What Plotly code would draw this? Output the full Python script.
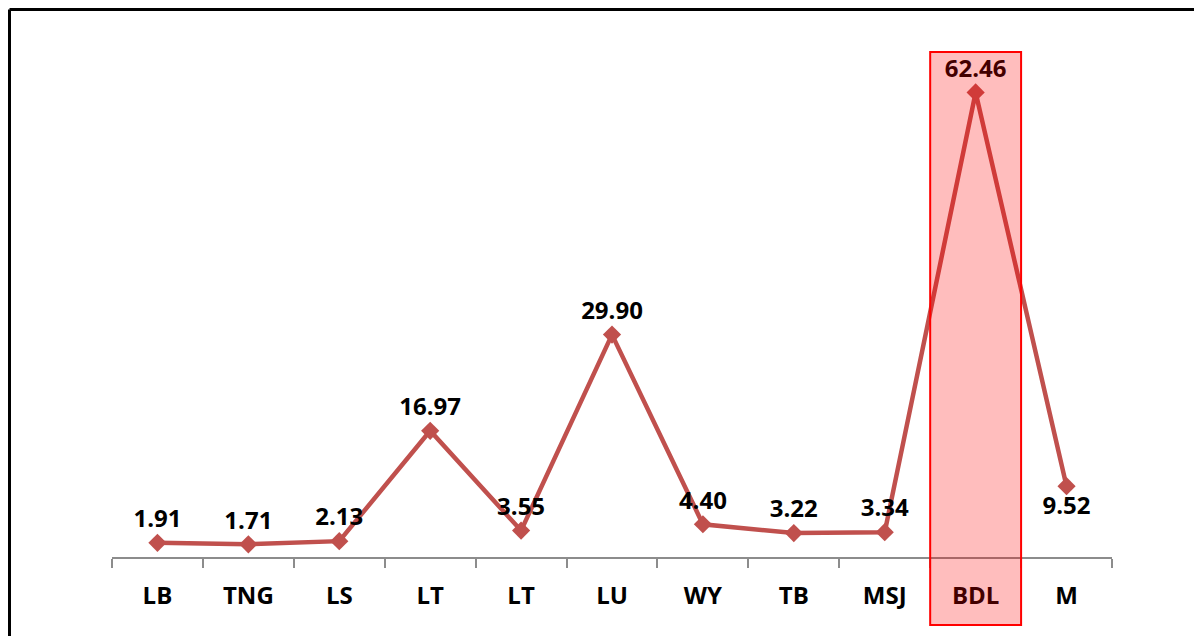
import plotly.graph_objects as go

categories = ["LB", "TNG", "LS", "LT", "LT", "LU", "WY", "TB", "MSJ", "BDL", "M"]
values = [1.91, 1.71, 2.13, 16.97, 3.55, 29.90, 4.40, 3.22, 3.34, 62.46, 9.52]
label_pos = ["top center"] * 10 + ["bottom center"]
highlight_index = 9

x = list(range(len(categories)))
FONT = "Open Sans"

fig = go.Figure()
fig.add_trace(go.Scatter(
    x=x, y=values,
    mode="lines+markers+text",
    line=dict(color="#C0504D", width=4.5),
    marker=dict(symbol="diamond", size=14, color="#C0504D"),
    text=[f"{v:.2f}" for v in values],
    textposition=label_pos,
    textfont=dict(family=FONT, size=24, color="black", weight="bold"),
    cliponaxis=False,
    showlegend=False,
))

# highlight box around BDL (extends below the axis)
fig.add_shape(type="rect", xref="x", yref="paper",
              x0=highlight_index - 0.5, x1=highlight_index + 0.5,
              y0=-0.1266, y1=0.9404,
              line=dict(color="#FF0000", width=2),
              fillcolor="rgba(255,0,0,0.26)", layer="above")

# chart frame (cropped)
fig.add_shape(type="line", xref="paper", yref="paper",
              x0=-0.1025, x1=1.2, y0=1.0196, y1=1.0196,
              line=dict(color="black", width=3))
fig.add_shape(type="line", xref="paper", yref="paper",
              x0=-0.1025, x1=-0.1025, y0=1.0196, y1=-0.2,
              line=dict(color="black", width=3))

fig.update_xaxes(
    range=[-0.5, len(categories) - 0.5],
    tickvals=x, ticktext=categories, ticks="",
    tickfont=dict(family=FONT, size=24, color="black", weight="bold"),
    ticklabelstandoff=16,
    showline=True, linecolor="#8C8C8C", linewidth=2,
    showgrid=False, zeroline=False,
    minor=dict(tickvals=[i - 0.5 for i in range(len(categories) + 1)],
               ticks="outside", ticklen=9, tickcolor="#8C8C8C", tickwidth=2,
               showgrid=False),
)
fig.update_yaxes(range=[0, 72.2], visible=False, showgrid=False, zeroline=False)

fig.update_layout(
    width=1202, height=636,
    margin=dict(l=104, r=98, t=12, b=87),
    plot_bgcolor="white", paper_bgcolor="white",
)

fig.write_html("out.html")
